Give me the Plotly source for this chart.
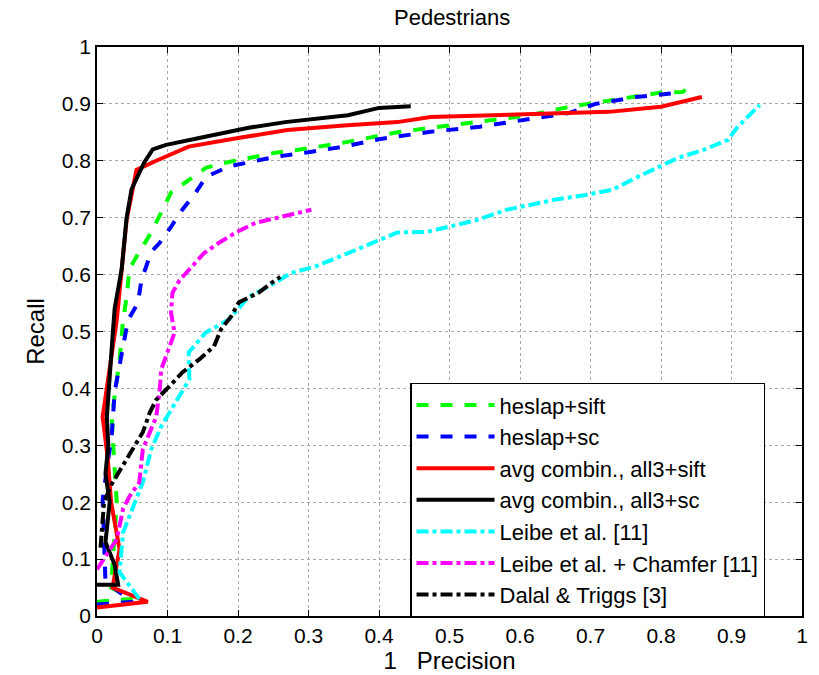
import plotly.graph_objects as go

# Data (1 - precision, recall)
heslap_sift_x = [0.0, 0.05, 0.02, 0.028, 0.023, 0.021, 0.032, 0.037, 0.042, 0.046, 0.06, 0.077, 0.091, 0.105, 0.131, 0.155, 0.187, 0.253, 0.30, 0.35, 0.43, 0.473, 0.543, 0.613, 0.67, 0.73, 0.80, 0.83, 0.848]
heslap_sift_y = [0.025, 0.03, 0.05, 0.2, 0.30, 0.35, 0.45, 0.52, 0.56, 0.61, 0.64, 0.674, 0.709, 0.744, 0.767, 0.788, 0.798, 0.814, 0.822, 0.832, 0.851, 0.858, 0.87, 0.88, 0.895, 0.907, 0.92, 0.921, 0.933]

heslap_sc_x = [0.0, 0.05, 0.012, 0.008, 0.021, 0.025, 0.037, 0.044, 0.058, 0.063, 0.077, 0.089, 0.105, 0.121, 0.14, 0.155, 0.187, 0.253, 0.30, 0.35, 0.40, 0.44, 0.473, 0.543, 0.613, 0.67, 0.707, 0.764, 0.82]
heslap_sc_y = [0.02, 0.025, 0.06, 0.205, 0.32, 0.393, 0.474, 0.52, 0.55, 0.59, 0.64, 0.656, 0.684, 0.714, 0.744, 0.772, 0.79, 0.807, 0.815, 0.825, 0.838, 0.846, 0.851, 0.86, 0.873, 0.884, 0.90, 0.912, 0.919]

avg_sift_x = [0.0, 0.072, 0.022, 0.032, 0.02, 0.015, 0.008, 0.028, 0.042, 0.056, 0.084, 0.13, 0.20, 0.27, 0.35, 0.426, 0.473, 0.641, 0.726, 0.80, 0.844, 0.858]
avg_sift_y = [0.015, 0.025, 0.05, 0.117, 0.2, 0.28, 0.35, 0.52, 0.696, 0.784, 0.80, 0.825, 0.84, 0.854, 0.862, 0.868, 0.877, 0.884, 0.886, 0.895, 0.909, 0.912]

avg_sc_x = [0.0, 0.03, 0.025, 0.012, 0.018, 0.012, 0.016, 0.014, 0.022, 0.025, 0.035, 0.042, 0.049, 0.067, 0.079, 0.098, 0.145, 0.169, 0.215, 0.267, 0.356, 0.40, 0.445]
avg_sc_y = [0.055, 0.055, 0.09, 0.13, 0.2, 0.25, 0.3, 0.35, 0.49, 0.54, 0.61, 0.70, 0.75, 0.797, 0.82, 0.828, 0.84, 0.846, 0.858, 0.868, 0.88, 0.893, 0.896]

leibe_x = [0.06, 0.032, 0.037, 0.046, 0.065, 0.077, 0.091, 0.131, 0.13, 0.154, 0.187, 0.215, 0.243, 0.276, 0.309, 0.351, 0.426, 0.468, 0.539, 0.581, 0.651, 0.693, 0.731, 0.764, 0.80, 0.824, 0.862, 0.895, 0.909, 0.94]
leibe_y = [0.03, 0.077, 0.147, 0.175, 0.235, 0.293, 0.333, 0.416, 0.463, 0.498, 0.521, 0.561, 0.579, 0.603, 0.614, 0.635, 0.674, 0.675, 0.696, 0.714, 0.732, 0.74, 0.749, 0.77, 0.79, 0.805, 0.82, 0.837, 0.86, 0.898]

chamfer_x = [0.0, 0.028, 0.037, 0.046, 0.06, 0.065, 0.084, 0.089, 0.091, 0.11, 0.105, 0.107, 0.117, 0.135, 0.152, 0.173, 0.197, 0.225, 0.262, 0.304]
chamfer_y = [0.082, 0.135, 0.188, 0.21, 0.235, 0.293, 0.35, 0.398, 0.433, 0.498, 0.533, 0.568, 0.59, 0.614, 0.638, 0.656, 0.674, 0.691, 0.702, 0.714]

dalal_x = [0.005, 0.01, 0.02, 0.032, 0.05, 0.065, 0.075, 0.084, 0.103, 0.121, 0.145, 0.166, 0.176, 0.19, 0.201, 0.229, 0.248, 0.26]
dalal_y = [0.12, 0.2, 0.23, 0.254, 0.29, 0.323, 0.358, 0.38, 0.404, 0.428, 0.451, 0.474, 0.504, 0.526, 0.551, 0.568, 0.586, 0.596]

series = [
    ("heslap+sift", heslap_sift_x, heslap_sift_y, "#00ff00", "dash"),
    ("heslap+sc", heslap_sc_x, heslap_sc_y, "#0000ff", "dash"),
    ("avg combin., all3+sift", avg_sift_x, avg_sift_y, "#ff0000", "solid"),
    ("avg combin., all3+sc", avg_sc_x, avg_sc_y, "#000000", "solid"),
    ("Leibe et al. [11]", leibe_x, leibe_y, "#00ffff", "dashdot"),
    ("Leibe et al. + Chamfer [11]", chamfer_x, chamfer_y, "#ff00ff", "dashdot"),
    ("Dalal & Triggs [3]", dalal_x, dalal_y, "#000000", "dashdot"),
]

fig = go.Figure()
for name, xs, ys, col, dash in series:
    fig.add_trace(go.Scatter(x=xs, y=ys, mode="lines", name=name,
                             line=dict(color=col, width=4, dash=dash)))

font_family = "Liberation Sans, Arial, sans-serif"
ticks = [i / 10 for i in range(11)]
ticktext = ["0", "0.1", "0.2", "0.3", "0.4", "0.5", "0.6", "0.7", "0.8", "0.9", "1"]

axis_common = dict(
    range=[0, 1], tickvals=ticks, ticktext=ticktext,
    showgrid=True, gridcolor="#a8a8a8", griddash="dot", gridwidth=1,
    showline=True, linecolor="black", linewidth=1.5, mirror="ticks",
    ticks="inside", ticklen=6, tickcolor="black",
    zeroline=False, tickfont=dict(size=21, color="black", family=font_family),
)

fig.update_layout(
    width=819, height=675,
    margin=dict(l=97, r=11, t=47, b=58),
    paper_bgcolor="white", plot_bgcolor="white",
    font=dict(family=font_family, color="black"),
    title=dict(text="Pedestrians", x=0.552, xanchor="center", y=0.975, yanchor="middle",
               font=dict(size=22, color="black")),
    xaxis=dict(**axis_common, title=dict(text="1   Precision", font=dict(size=24), standoff=0)),
    yaxis=dict(**axis_common, title=dict(text="Recall", font=dict(size=24), standoff=10)),
    legend=dict(x=0.444, y=0.41, xanchor="left", yanchor="top",
                bgcolor="white", bordercolor="black", borderwidth=1.5,
                font=dict(size=22, color="black"), tracegroupgap=0,
                itemwidth=78),
    showlegend=True,
)

fig.write_html("out.html")
